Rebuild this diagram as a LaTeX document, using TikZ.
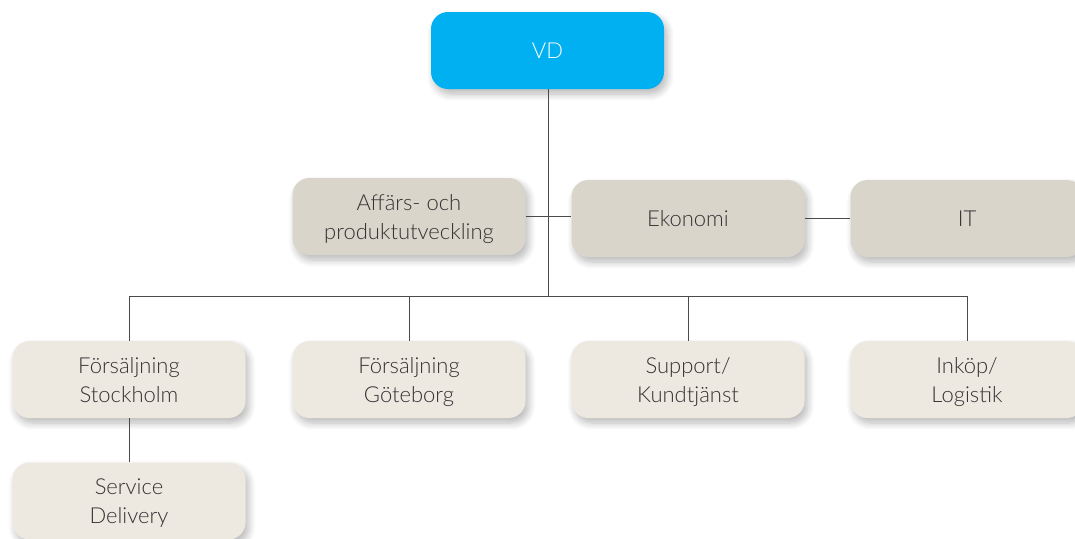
\documentclass[tikz,border=0pt]{standalone}
\usepackage{fontspec}
\setmainfont{Lato Light}
\usetikzlibrary{shadows.blur}
\definecolor{vdblue}{HTML}{00B0F0}
\definecolor{midbox}{HTML}{D9D5CB}
\definecolor{lowbox}{HTML}{EDE9E1}
\definecolor{txt}{HTML}{333333}
\definecolor{ln}{HTML}{4A4A4A}
\begin{document}
\begin{tikzpicture}[x=1pt,y=-1pt,
  box/.style={rounded corners=17pt, minimum width=233pt, minimum height=77pt,
    inner sep=0pt, align=center, font=\fontsize{22}{29}\selectfont, text=txt, text depth=-4pt,
    blur shadow={shadow xshift=3pt, shadow yshift=-5pt, shadow blur radius=7pt, shadow blur steps=8, shadow opacity=28}},
  topbox/.style={box, fill=vdblue, text=white},
  midb/.style={box, fill=midbox},
  lowb/.style={box, fill=lowbox},
  conn/.style={draw=ln, line width=1pt}]
\useasboundingbox (0,0) rectangle (1075,538);
\clip (0,0) rectangle (1075,538);
\node[topbox] (vd) at (547.5,50.5) {VD};
\node[midb] (aff) at (409,216.5) {Affärs- och\\produktutveckling};
\node[midb] (eko) at (688,218.5) {Ekonomi};
\node[midb] (it) at (967,218.5) {IT};
\node[lowb] (sthlm) at (129,379.5) {Försäljning\\Stockholm};
\node[lowb] (gbg) at (409,379.5) {Försäljning\\Göteborg};
\node[lowb] (sup) at (688,379.5) {Support/\\Kundtjänst};
\node[lowb] (ink) at (967,379.5) {Inköp/\\Logistik};
\node[lowb] (serv) at (129,501) {Service\\Delivery};
\coordinate (bus) at (548,296);
\coordinate (mid) at (548,216.5);
\draw[conn] (vd.south -| mid) -- (bus);
\draw[conn] (aff.east) -- (mid);
\draw[conn] (mid) -- (eko.west |- mid);
\draw[conn] (eko.east) -- (it.west);
\draw[conn] (sthlm.north) -- (sthlm.north |- bus) -- (ink.north |- bus) -- (ink.north);
\draw[conn] (gbg.north) -- (gbg.north |- bus);
\draw[conn] (sup.north) -- (sup.north |- bus);
\draw[conn] (sthlm.south) -- (serv.north);
\end{tikzpicture}
\end{document}
